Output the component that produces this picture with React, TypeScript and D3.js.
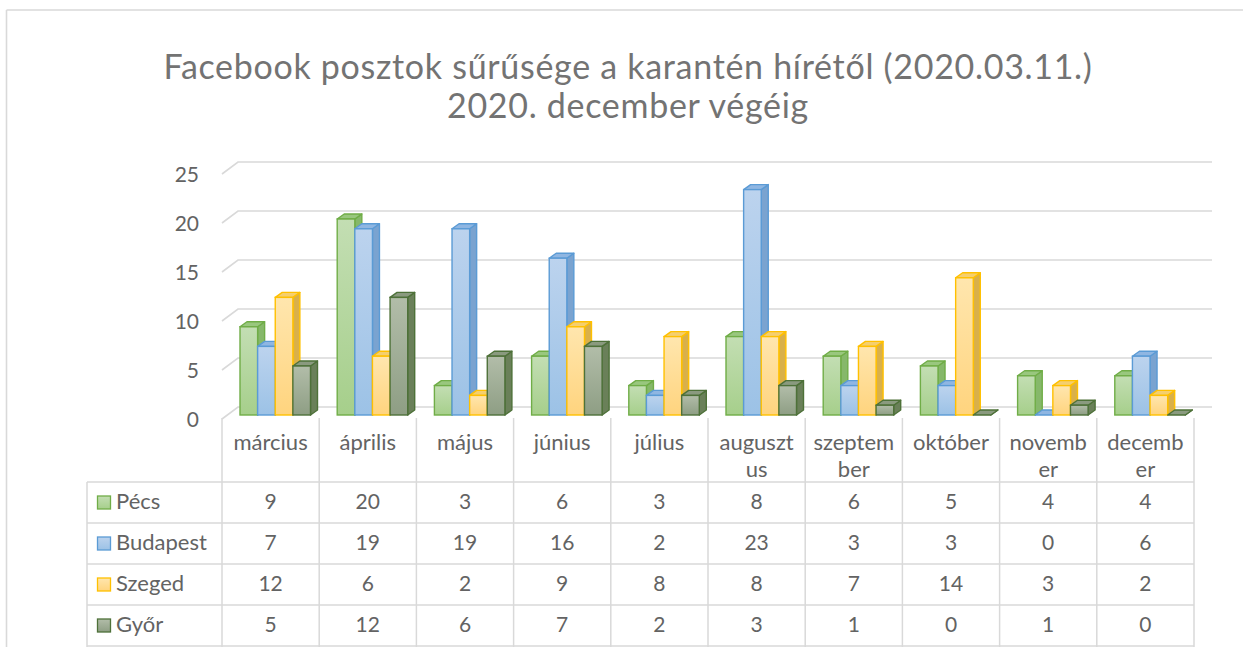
import React from "react";
import * as d3 from "d3";

const months = ["március", "április", "május", "június", "július", "augusztus", "szeptember", "október", "november", "december"];
const monthLabelLines = [["március"], ["április"], ["május"], ["június"], ["július"], ["auguszt", "us"], ["szeptem", "ber"], ["október"], ["novemb", "er"], ["decemb", "er"]];
const seriesNames = ["Pécs", "Budapest", "Szeged", "Győr"];
const pecs = [9, 20, 3, 6, 3, 8, 6, 5, 4, 4];
const budapest = [7, 19, 19, 16, 2, 23, 3, 3, 0, 6];
const szeged = [12, 6, 2, 9, 8, 8, 7, 14, 3, 2];
const gyor = [5, 12, 6, 7, 2, 3, 1, 0, 1, 0];
const yTicks = [0, 5, 10, 15, 20, 25];
const titleLines = ["Facebook posztok sűrűsége a karantén hírétől (2020.03.11.)", "2020. december végéig"];

const seriesValues = [pecs, budapest, szeged, gyor];

const palette = [
  { top: "#c3deb3", bottom: "#a6cf8b", stroke: "#70ad47", side: "#86b86a", cap: "#99c77e" },
  { top: "#bcd3ee", bottom: "#9cc2e6", stroke: "#5b9bd5", side: "#7aa3d0", cap: "#8fb6e2" },
  { top: "#ffe6ae", bottom: "#ffd47e", stroke: "#ffc000", side: "#d9b04a", cap: "#f5cf6e" },
  { top: "#b2bda9", bottom: "#8e9e84", stroke: "#4e7139", side: "#6a8059", cap: "#8a9a7f" },
];

const FONT = "Lato, 'Open Sans', sans-serif";
const TEXT = "#636363";
const GRID = "#d9d9d9";

export default function App() {
  const W = 1243;
  const H = 647;
  const x = d3.scaleBand<string>().domain(months).range([222, 1194]).paddingInner(0).paddingOuter(0);
  const xs = d3.scaleBand<string>().domain(seriesNames).range([18, 18 + 70.5]);
  const yFront = d3.scaleLinear().domain([0, 25]).range([415, 170]);
  const yBack = d3.scaleLinear().domain([0, 25]).range([407, 162]);
  const dx = 7;
  const dy = 5;
  const gridX0 = 238;
  const gridX1 = 1212;
  const slantDx = 16;
  const slantDy = 12;

  const rowTop = 482;
  const rowH = 41;
  const tableLeft = 87;
  const tableRight = 1194;

  return (
    <svg width={W} height={H} style={{ position: "absolute", left: 0, top: 0, background: "#fff" }}>
      <defs>
        {palette.map((p, i) => (
          <linearGradient key={i} id={`g${i}`} x1="0" y1="0" x2="0" y2="1">
            <stop offset="0" stopColor={p.top} />
            <stop offset="1" stopColor={p.bottom} />
          </linearGradient>
        ))}
      </defs>
      <rect x={0} y={0} width={W} height={H} fill="#fff" />
      {/* chart border */}
      <line x1={6.5} y1={10} x2={W} y2={10} stroke={GRID} strokeWidth={1.6} />
      <line x1={6.5} y1={10} x2={6.5} y2={H} stroke={GRID} strokeWidth={1.6} />

      {/* title */}
      <text x={628} y={79} textAnchor="middle" fontFamily={FONT} fontSize={34} letterSpacing={0.7} fill="#737373">{titleLines[0]}</text>
      <text x={628} y={118} textAnchor="middle" fontFamily={FONT} fontSize={34} letterSpacing={0.7} fill="#737373">{titleLines[1]}</text>

      {/* gridlines */}
      {yTicks.map((t) => (
        <g key={t}>
          <polyline
            points={`${gridX0 - slantDx},${yBack(t) + slantDy} ${gridX0},${yBack(t)} ${gridX1},${yBack(t)}`}
            fill="none"
            stroke={GRID}
            strokeWidth={1.6}
          />
          <text x={199} y={yBack(t) + 15} textAnchor="end" dominantBaseline="middle" fontFamily={FONT} fontSize={21} fill={TEXT}>
            {t}
          </text>
        </g>
      ))}

      {/* bars */}
      {months.map((m, ci) => (
        <g key={m}>
          {seriesNames.map((s, si) => {
            const v = seriesValues[si][ci];
            const bx = (x(m) as number) + (xs(s) as number);
            const w = xs.bandwidth();
            const top = yFront(v);
            const bottom = yFront(0);
            const p = palette[si];
            const side = `${bx + w},${top} ${bx + w + dx},${top - dy} ${bx + w + dx},${bottom - dy} ${bx + w},${bottom}`;
            const cap = `${bx},${top} ${bx + dx},${top - dy} ${bx + w + dx},${top - dy} ${bx + w},${top}`;
            return (
              <g key={s}>
                <polygon points={side} fill={p.side} stroke={p.stroke} strokeWidth={1.4} strokeLinejoin="round" />
                <polygon points={cap} fill={p.cap} stroke={p.stroke} strokeWidth={1.4} strokeLinejoin="round" />
                {v > 0 && (
                  <rect x={bx} y={top} width={w} height={bottom - top} fill={`url(#g${si})`} stroke={p.stroke} strokeWidth={1.4} />
                )}
              </g>
            );
          })}
        </g>
      ))}

      {/* category header */}
      {months.map((m, ci) => (
        <g key={m}>
          {monthLabelLines[ci].map((ln, li) => (
            <text
              key={li}
              x={(x(m) as number) + x.bandwidth() / 2}
              y={444 + li * 27}
              textAnchor="middle"
              dominantBaseline="middle"
              fontFamily={FONT}
              fontSize={22}
              fill={TEXT}
            >
              {ln}
            </text>
          ))}
        </g>
      ))}
      {months.map((m) => (
        <line key={m} x1={x(m) as number} y1={418} x2={x(m) as number} y2={H} stroke={GRID} strokeWidth={1.5} />
      ))}
      <line x1={tableRight} y1={418} x2={tableRight} y2={H} stroke={GRID} strokeWidth={1.5} />

      {/* data table */}
      <line x1={tableLeft} y1={rowTop} x2={tableLeft} y2={H} stroke={GRID} strokeWidth={1.5} />
      {d3.range(seriesNames.length + 1).map((r) => (
        <line key={r} x1={tableLeft} y1={rowTop + r * rowH} x2={tableRight} y2={rowTop + r * rowH} stroke={GRID} strokeWidth={1.5} />
      ))}
      {seriesNames.map((s, si) => {
        const cy = rowTop + si * rowH + rowH / 2;
        const p = palette[si];
        return (
          <g key={s}>
            <rect x={97.5} y={cy - 6.5} width={13} height={13} fill={`url(#g${si})`} stroke={p.stroke} strokeWidth={1.3} />
            <text x={116} y={cy + 1} dominantBaseline="middle" fontFamily={FONT} fontSize={22} fill={TEXT}>
              {s}
            </text>
            {months.map((m, ci) => (
              <text
                key={m}
                x={(x(m) as number) + x.bandwidth() / 2}
                y={cy + 1}
                textAnchor="middle"
                dominantBaseline="middle"
                fontFamily={FONT}
                fontSize={21}
                fill={TEXT}
              >
                {seriesValues[si][ci]}
              </text>
            ))}
          </g>
        );
      })}
    </svg>
  );
}
